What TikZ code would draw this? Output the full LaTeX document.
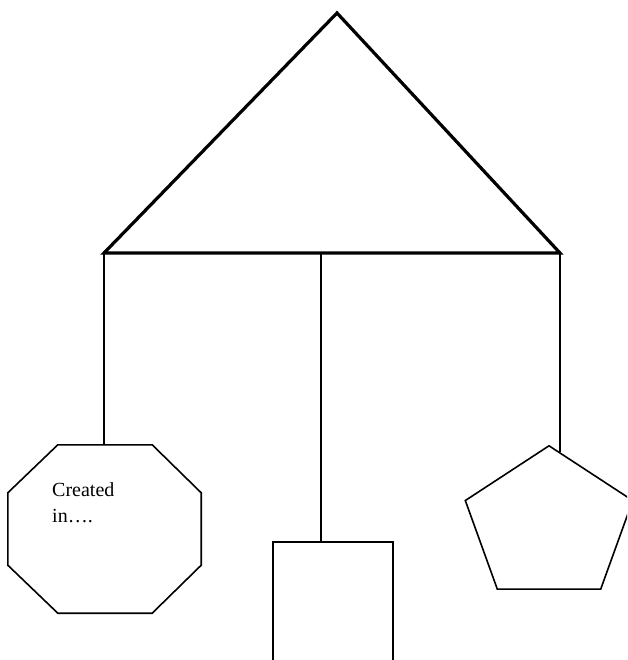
\documentclass[tikz,border=0pt]{standalone}
\usepackage{fontspec}
\setmainfont{Liberation Serif}
\usetikzlibrary{shapes.geometric}

\begin{document}
\begin{tikzpicture}[x=1pt,y=-1pt,
  thinline/.style={line width=1.6pt},
  roof/.style={line width=3.2pt,line join=miter},
  octframe/.style={rectangle,minimum width=193pt,minimum height=168pt,inner sep=0pt},
  pentbox/.style={draw,thinline,regular polygon,regular polygon sides=5,minimum size=176pt,inner sep=0pt,yscale=.9,transform shape},
  rectbox/.style={draw,thinline,rectangle,minimum width=120pt,minimum height=160pt,inner sep=0pt},
  lbl/.style={font=\fontsize{20}{26}\selectfont,align=left,inner sep=0pt}]
\useasboundingbox (0,0) rectangle (627,660);
\clip (0,0) rectangle (627,660);
% roof
\coordinate (apex) at (337,13);
\coordinate (bl) at (104,253);
\coordinate (br) at (560,253);
\coordinate (bm) at (321,253);
\coordinate (brlow) at (560,400);
\draw[roof] (apex)--(br)--(bl)--cycle;
% shapes below
\node[octframe] (oct) at (104.5,529) {};
\draw[thinline] ([xshift=50pt]oct.north west)--([xshift=-49pt]oct.north east)--([yshift=-48pt]oct.north east)
  --([yshift=48pt]oct.south east)--([xshift=-49pt]oct.south east)--([xshift=50pt]oct.south west)
  --([yshift=48pt]oct.south west)--([yshift=-48pt]oct.north west)--cycle;
\node[lbl,anchor=base west] (octtext) at (52,522) {Created\\in….};
\node[rectbox] (box) at (333,622) {};
\node[pentbox] (pent) at (549,525) {};
% hangers
\draw[thinline] (bl)--(bl |- oct.north);
\draw[thinline] (bm)--(bm |- box.north);
\draw[thinline] (br)--(intersection of br--brlow and pent.corner 1--pent.corner 5);
\end{tikzpicture}
\end{document}
